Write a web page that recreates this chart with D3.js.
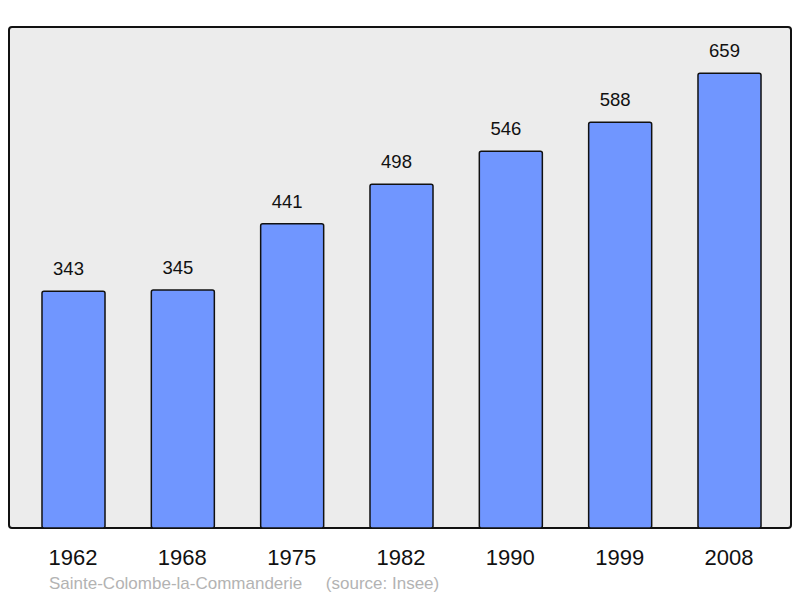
<!DOCTYPE html>
<html><head><meta charset="utf-8">
<script src="https://cdn.jsdelivr.net/npm/d3@7"></script>
<style>body{margin:0;background:#fff}svg{display:block}</style>
</head><body>
<svg id="c" width="800" height="598"></svg>
<script>
const years = ["1962","1968","1975","1982","1990","1999","2008"];
const population = [343,345,441,498,546,588,659];
const sourceLabel = "Sainte-Colombe-la-Commanderie     (source: Insee)";

const svg = d3.select("#c");
const frame = {x0: 9, y0: 27, x1: 791, y1: 528};

svg.append("rect").attr("x", frame.x0).attr("y", frame.y0)
  .attr("width", frame.x1 - frame.x0).attr("height", frame.y1 - frame.y0)
  .attr("rx", 3).attr("fill", "#ececec").attr("stroke", "#111").attr("stroke-width", 2);

const x = d3.scalePoint().domain(years).range([73.5, 729.5]);
const bw = x.step() * 0.5764;
const y = d3.scaleLinear().domain([0, 726]).range([frame.y1, frame.y1 - 501]);

const g = svg.append("g");
g.selectAll("rect.bar").data(years).join("rect").attr("class","bar")
  .attr("x", d => x(d) - bw/2).attr("width", bw)
  .attr("y", (d,i) => y(population[i])).attr("height", (d,i) => frame.y1 - y(population[i]))
  .attr("rx", 2)
  .attr("fill", "#7096ff").attr("stroke", "#111").attr("stroke-width", 1.5);

g.selectAll("text.val").data(years).join("text").attr("class","val")
  .attr("x", d => x(d) - 5).attr("y", (d,i) => y(population[i]) - 16)
  .attr("text-anchor","middle").attr("font-family","Liberation Sans, Arial, sans-serif")
  .attr("font-size", 18.5).attr("fill","#111").text((d,i) => population[i]);

g.selectAll("text.yr").data(years).join("text").attr("class","yr")
  .attr("x", d => x(d) - 0.5).attr("y", 565)
  .attr("text-anchor","middle").attr("font-family","Liberation Sans, Arial, sans-serif")
  .attr("font-size", 22).attr("fill","#111").text(d => d);

svg.append("text").attr("x", 49).attr("y", 589)
  .attr("font-family","Liberation Sans, Arial, sans-serif").attr("font-size", 17)
  .attr("fill","#b3b3b3").attr("xml:space","preserve").style("white-space","pre").text(sourceLabel);
</script>
</body></html>
